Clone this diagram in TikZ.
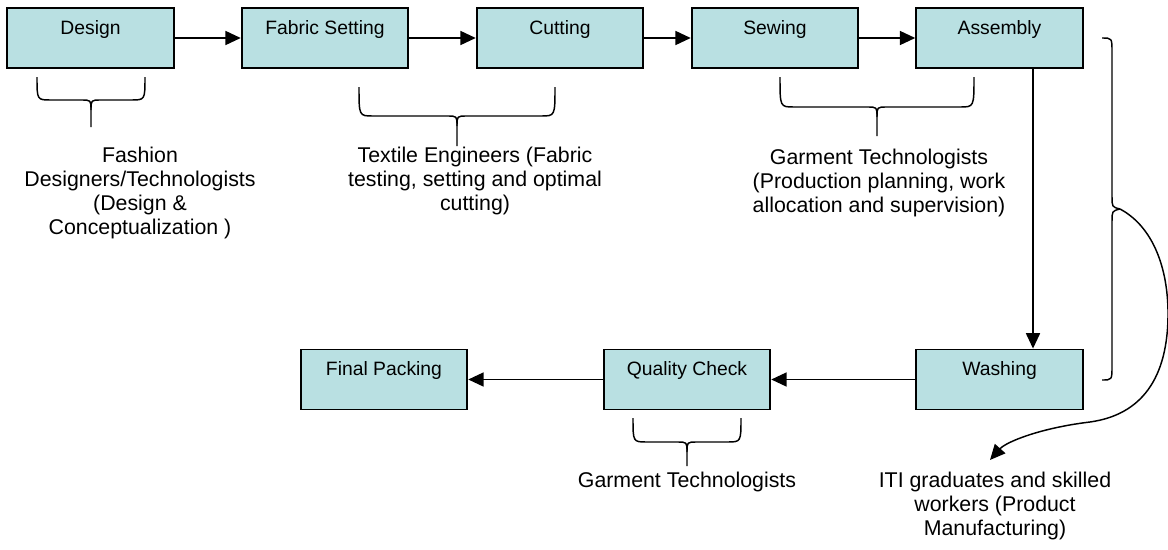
\documentclass[tikz,border=0pt]{standalone}
\usepackage{fontspec}
\setmainfont{Liberation Sans}
\usetikzlibrary{arrows.meta,calc}
\definecolor{boxfill}{RGB}{185,224,226}

\tikzset{
  x=0.75pt, y=-0.75pt,
  stage/.style={draw=black, line width=1.4pt, fill=boxfill,
    minimum width=125pt, minimum height=45pt, inner sep=0pt,
    text height=19.5pt, text depth=25.5pt,
    font=\fontsize{14.5}{17}\selectfont},
  role/.style={anchor=north, align=center, inner sep=0pt,
    font=\fontsize{16}{18}\selectfont},
  flow/.style={line width=1.2pt, -{Triangle[length=11.5pt,width=10.5pt]}},
  braceline/.style={line width=1.1pt, line join=round},
  pics/downbrace/.style n args={3}{code={
    % #1 half width, #2 depth of the bar, #3 depth of the tip
    \draw[braceline] (-#1,0) .. controls (-#1,#2) .. (-#1+14,#2) -- (-10,#2)
      .. controls (0,#2) .. (0,#2+10) -- (0,#3);
    \draw[braceline] (#1,0) .. controls (#1,#2) .. (#1-14,#2) -- (10,#2)
      .. controls (0,#2) .. (0,#2+10);
  }}
}

\begin{document}
\begin{tikzpicture}
\useasboundingbox (0,0) rectangle (1168,550);

% production stages
\node[stage] (design)   at (90.5,38)    {Design};
\node[stage] (fabric)   at (325,38)     {Fabric Setting};
\node[stage] (cutting)  at (560,38)     {Cutting};
\node[stage] (sewing)   at (775,38)     {Sewing};
\node[stage] (assembly) at (999.5,38)   {Assembly};
\node[stage] (washing)  at (999.5,379.5) {Washing};
\node[stage] (quality)  at (687,379.5)  {Quality Check};
\node[stage] (packing)  at (384,379.5)  {Final Packing};

% process flow
\draw[flow] (design) -- (fabric);
\draw[flow] (fabric) -- (cutting);
\draw[flow] (cutting) -- (sewing);
\draw[flow] (sewing) -- (assembly);
\draw[flow] ($(assembly.south)+(33.5,0)$) -- ($(washing.north)+(33.5,0)$);
\draw[flow] (washing) -- (quality);
\draw[flow] (quality) -- (packing);

% people responsible for each group of stages
\pic at (91,77)  {downbrace={54}{23}{50}};
\pic at (457,87) {downbrace={98}{29}{59}};
\pic at (877,77) {downbrace={97}{30}{59}};
\pic at (687,418) {downbrace={54}{24}{48}};

\node[role] (lblfashion) at (140,147) {Fashion\\Designers/Technologists\\(Design \&\\Conceptualization )};
\node[role] (lbltextile) at (475,147) {Textile Engineers (Fabric\\testing, setting and optimal\\cutting)};
\node[role] (lblgarment) at (879,149) {Garment Technologists\\(Production planning, work\\allocation and supervision)};
\node[role] (lblqc) at (687,472) {Garment Technologists};
\node[role] (lbliti) at (995,472) {ITI graduates and skilled\\workers (Product\\Manufacturing)};

% brace spanning all manufacturing stages
\coordinate (rtip) at (1120,209);
\draw[braceline] (1102,38) .. controls (1112,38) .. (1112,52) -- (1112,196)
  .. controls (1112,207) .. (rtip);
\draw[braceline] (rtip) .. controls (1112,211) .. (1112,222) -- (1112,366)
  .. controls (1112,380) .. (1102,380);
\draw[line width=1.1pt, -{Triangle[length=11.5pt,width=10.5pt]}] (rtip)
  .. controls (1150,225) and (1167,262) .. (1168,310)
  .. controls (1169,380) and (1140,415) .. (1090,422)
  .. controls (1040,428) and (1006,442) .. (990,460);
\end{tikzpicture}
\end{document}
